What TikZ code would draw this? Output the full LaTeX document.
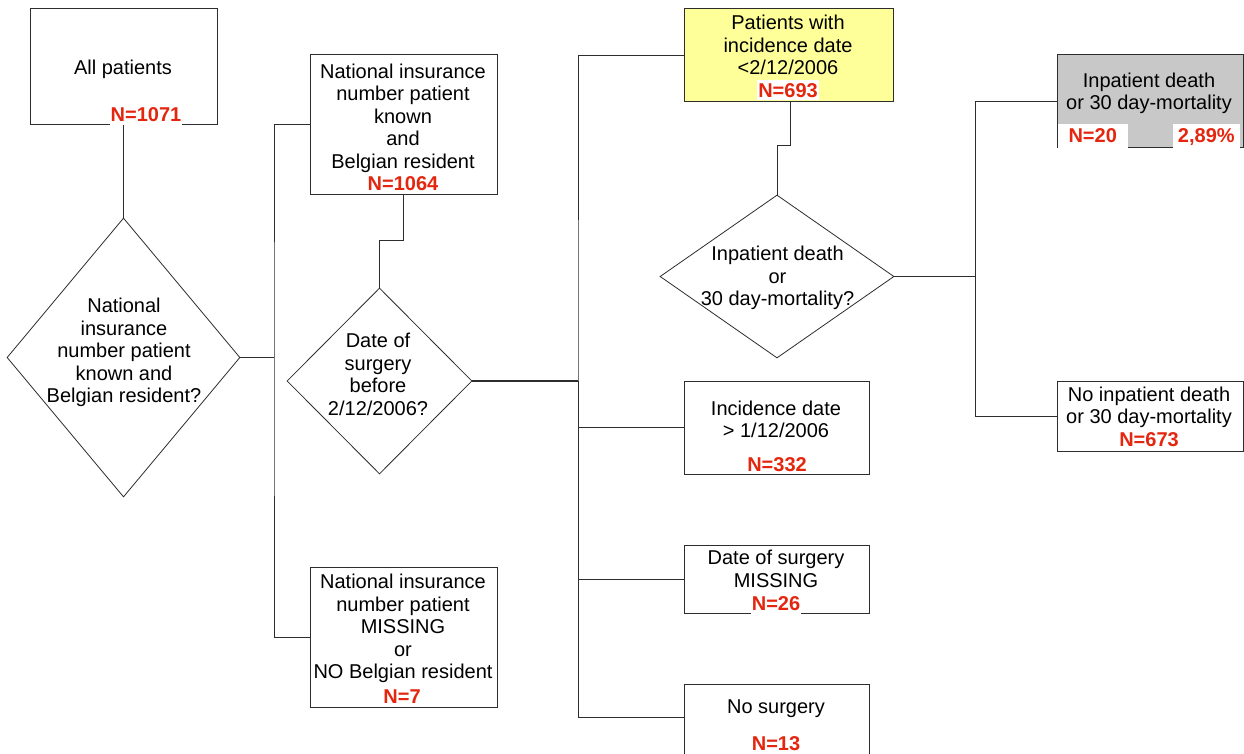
\documentclass[tikz,border=0pt]{standalone}
\usepackage{fontspec}
\setmainfont{Liberation Sans}
\usetikzlibrary{shapes.geometric}
\definecolor{nred}{RGB}{228,38,15}
\definecolor{lyellow}{RGB}{255,255,153}
\definecolor{lgray}{RGB}{200,200,200}
\definecolor{lineg}{RGB}{45,45,45}
\begin{document}
\begin{tikzpicture}[x=1pt,y=-1pt,
  box/.style={draw=lineg, line width=1pt, rectangle, inner sep=0pt, fill=white},
  dia/.style={draw=lineg, line width=0.8pt, diamond, inner sep=0pt, fill=white},
  txt/.style={align=center, font=\fontsize{20}{22.5}\selectfont, inner sep=0pt},
  nlab/.style={text=nred, fill=white, font=\fontsize{20}{22.5}\selectfont\bfseries, inner xsep=1pt, inner ysep=0pt, text height=17pt, text depth=3pt},
  conn/.style={draw=lineg, line width=1pt}]
\useasboundingbox (0,0) rectangle (1244,754);
\fill[white] (0,0) rectangle (1244,754);
% boxes
\node[box, minimum width=187pt, minimum height=116pt] (all) at (123.5,67) {};
\node[box, minimum width=187pt, minimum height=140pt] (b2) at (403.5,125) {};
\node[box, minimum width=187pt, minimum height=140pt] (b3) at (403.5,637) {};
\node[box, fill=lyellow, minimum width=209pt, minimum height=93pt] (yel) at (788.5,55.5) {};
\node[box, minimum width=185pt, minimum height=93pt] (inc) at (776.5,427.5) {};
\node[box, minimum width=185pt, minimum height=68pt] (miss) at (776.5,579) {};
\node[box, minimum width=185pt, minimum height=72pt] (ns) at (776.5,720) {};
\node[box, fill=lgray, minimum width=186pt, minimum height=93pt] (gray) at (1150,101.5) {};
\node[box, minimum width=186pt, minimum height=70pt] (noinp) at (1150,416) {};
% diamonds
\node[dia, minimum width=233pt, minimum height=279pt] (d1) at (123.5,357.5) {};
\node[dia, minimum width=185pt, minimum height=186pt] (d2) at (379.5,381) {};
\node[dia, minimum width=234pt, minimum height=163pt] (d3) at (777,276.5) {};
% connectors
\coordinate (j1) at (274,357.5);
\coordinate (j2) at (578,381);
\coordinate (j3) at (975,276.5);
\draw[conn] (all.south) -- (d1.north);
\draw[conn] (d1.east) -- (j1);
\draw[conn] (b2.west) -| (j1) |- (b3.west);
\draw[conn] (b2.south) -- ++(0,45) -| (d2.north);
\draw[conn, line width=1.6pt] (d2.east) -- (j2);
\draw[conn] (yel.west) -| (j2) |- ([yshift=3pt]ns.west);
\draw[conn] (j2) |- (inc.west);
\draw[conn] (j2) |- (miss.west);
\draw[conn] ([xshift=1.5pt]yel.south) -- ++(0,43) -| (d3.north);
\draw[conn] (d3.east) -- (j3);
\draw[conn] (gray.west) -| (j3) |- (noinp.west);
% texts
\node[txt] (t1) at (123,69) {All patients};
\node[txt] (t2) at (403,118) {National insurance\\number patient\\known\\and\\Belgian resident};
\node[txt] (t3) at (403,628.5) {National insurance\\number patient\\MISSING\\or\\NO Belgian resident};
\node[txt] (ty) at (788,45) {Patients with\\incidence date\\<2/12/2006};
\node[txt] (ti) at (776,419.5) {Incidence date\\> 1/12/2006};
\node[txt] (tm) at (776,569) {Date of surgery\\MISSING};
\node[txt] (tn) at (776,709) {No surgery};
\node[txt] (tg) at (1149,93.5) {Inpatient death\\or 30 day-mortality};
\node[txt] (tp) at (1149,407.5) {No inpatient death\\or 30 day-mortality};
\node[txt] (td1) at (124,352.5) {National\\insurance\\number patient\\known and\\Belgian resident?};
\node[txt] (td2) at (378,374.5) {Date of\\surgery\\before\\2/12/2006?};
\node[txt] (td3) at (777.5,278) {Inpatient death\\or\\30 day-mortality?};
% N labels
\node[nlab] (n1) at (146,115) {N=1071};
\node[nlab] (n2) at (403,184) {N=1064};
\node[nlab] (n3) at (402,696) {N=7};
\node[nlab] (ny) at (788,90.5) {N=693};
\node[nlab] (ni) at (777,464) {N=332};
\node[nlab] (nm) at (776,603.5) {N=26};
\node[nlab] (nn) at (776,743) {N=13};
\node[nlab] (np) at (1149,439) {N=673};
\node[nlab, minimum width=70pt, minimum height=24pt, anchor=south west] (ng) at (1057.5,148) {N=20};
\node[nlab, minimum width=67pt, minimum height=24pt, anchor=south east] (pg) at (1240,148) {2,89\%};
\end{tikzpicture}
\end{document}
